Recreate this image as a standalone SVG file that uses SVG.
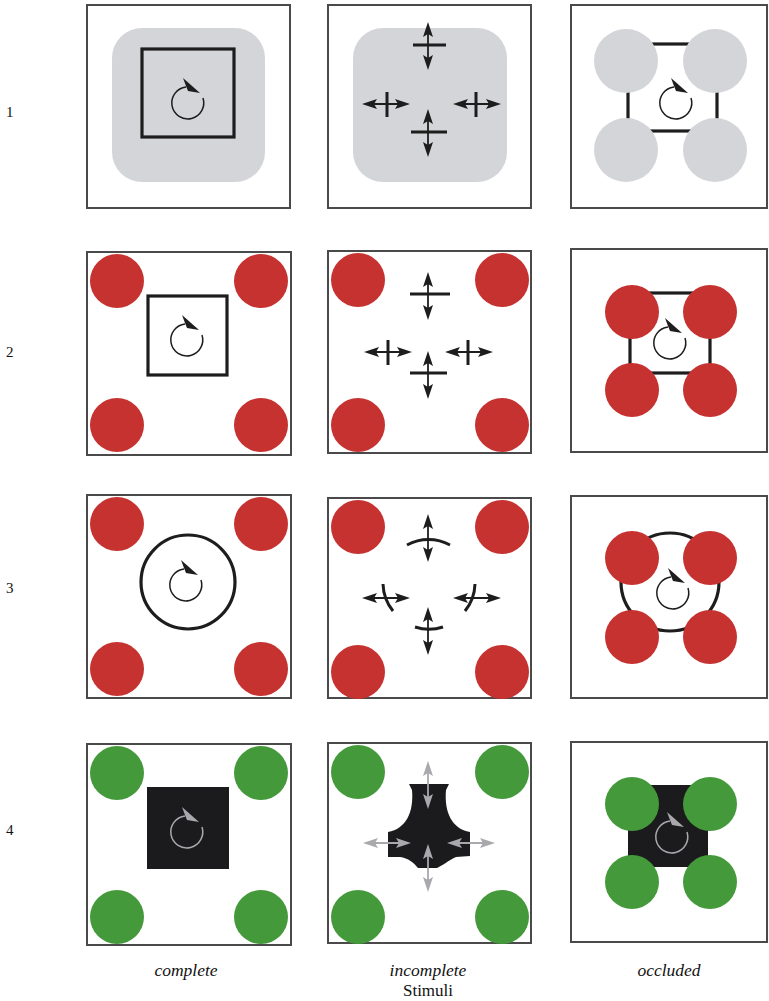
<svg xmlns="http://www.w3.org/2000/svg" xmlns:xlink="http://www.w3.org/1999/xlink" width="769" height="1001" viewBox="0 0 769 1001">
<style>
.box{fill:#fff;stroke:#4a4a4a;stroke-width:2}
.gray{fill:#d4d5d9}
.red{fill:#c53230}
.green{fill:#449a3b}
.blk{fill:#1b1b1d}
.edge{fill:none;stroke:#1d1d1d;stroke-width:3.2}
.bar{fill:none;stroke:#1d1d1d;stroke-width:3}
.lbl{font-family:'Liberation Serif','Times New Roman',serif;font-size:15px;fill:#111}
.cap{font-family:'Liberation Serif','Times New Roman',serif;font-size:17px;fill:#111;text-anchor:middle}
.it{font-style:italic;font-size:17.5px}
</style>
<defs>
<g id="rot">
<path d="M15,-5 A16,16 0 1 1 -2,-16" fill="none" stroke="currentColor" stroke-width="1.5"/>
<path d="M-5,-25 L12,-10 L0,-12 L-2,-17 Z" fill="currentColor"/>
</g>
<g id="dv">
<line x1="0" y1="-20" x2="0" y2="20" stroke="currentColor" stroke-width="1.8"/>
<path d="M0,-24 L5,-9 L0,-12 L-5,-9 Z" fill="currentColor"/>
<path d="M0,24 L5,9 L0,12 L-5,9 Z" fill="currentColor"/>
</g>
<g id="dh"><use xlink:href="#dv" transform="rotate(90)"/></g>
</defs>

<g id="row-labels">
<text class="lbl" x="6" y="117">1</text>
<text class="lbl" x="6" y="357">2</text>
<text class="lbl" x="6" y="593">3</text>
<text class="lbl" x="6" y="835">4</text>
</g>

<!-- Row 1 -->
<g id="r1-complete">
<rect class="box" x="87" y="5" width="203" height="203"/>
<rect class="gray" x="112" y="28" width="153" height="154" rx="30"/>
<rect class="edge" x="142" y="49" width="92" height="88" stroke-width="3.5"/>
<use xlink:href="#rot" x="188" y="103" color="#1d1d1d"/>
</g>
<g id="r1-incomplete">
<rect class="box" x="328" y="5" width="203" height="203"/>
<rect class="gray" x="353" y="28" width="154" height="154" rx="30"/>
<g color="#1d1d1d">
<use xlink:href="#dv" x="428" y="46"/><line class="bar" x1="413" y1="45" x2="446" y2="45"/>
<use xlink:href="#dv" x="428" y="133"/><line class="bar" x1="411" y1="132" x2="447" y2="132"/>
<use xlink:href="#dh" x="386" y="104"/><line class="bar" x1="387" y1="92" x2="387" y2="117"/>
<use xlink:href="#dh" x="477" y="104"/><line class="bar" x1="476" y1="92" x2="476" y2="117"/>
</g>
</g>
<g id="r1-occluded">
<rect class="box" x="571" y="5" width="196" height="203"/>
<rect class="edge" x="628" y="44" width="89" height="87"/>
<circle class="gray" cx="626" cy="61" r="32"/>
<circle class="gray" cx="715" cy="61" r="32"/>
<circle class="gray" cx="626" cy="150" r="32"/>
<circle class="gray" cx="715" cy="150" r="32"/>
<use xlink:href="#rot" x="676" y="103" color="#1d1d1d"/>
</g>

<!-- Row 2 -->
<g id="r2-complete">
<rect class="box" x="87" y="252" width="204" height="203"/>
<circle class="red" cx="117" cy="281" r="27"/>
<circle class="red" cx="261" cy="281" r="27"/>
<circle class="red" cx="117" cy="425" r="27"/>
<circle class="red" cx="261" cy="425" r="27"/>
<rect class="edge" x="148" y="296" width="79" height="79"/>
<use xlink:href="#rot" x="187" y="340" color="#1d1d1d"/>
</g>
<g id="r2-incomplete">
<rect class="box" x="328" y="251" width="203" height="202"/>
<circle class="red" cx="358" cy="280" r="27"/>
<circle class="red" cx="502" cy="280" r="27"/>
<circle class="red" cx="358" cy="425" r="27"/>
<circle class="red" cx="502" cy="425" r="27"/>
<g color="#1d1d1d">
<use xlink:href="#dv" x="428" y="296"/><line class="bar" x1="410" y1="294" x2="450" y2="294"/>
<use xlink:href="#dv" x="428" y="375"/><line class="bar" x1="410" y1="373" x2="447" y2="373"/>
<use xlink:href="#dh" x="388" y="352"/><line class="bar" x1="388" y1="340" x2="388" y2="365"/>
<use xlink:href="#dh" x="469" y="352"/><line class="bar" x1="468" y1="340" x2="468" y2="365"/>
</g>
</g>
<g id="r2-occluded">
<rect class="box" x="571" y="249" width="196" height="203"/>
<rect class="edge" x="630" y="293" width="80" height="80"/>
<circle class="red" cx="632" cy="312" r="27"/>
<circle class="red" cx="710" cy="312" r="27"/>
<circle class="red" cx="632" cy="390" r="27"/>
<circle class="red" cx="710" cy="390" r="27"/>
<use xlink:href="#rot" x="670" y="343" color="#1d1d1d"/>
</g>

<!-- Row 3 -->
<g id="r3-complete">
<rect class="box" x="87" y="495" width="204" height="203"/>
<circle class="red" cx="117" cy="524" r="27"/>
<circle class="red" cx="261" cy="524" r="27"/>
<circle class="red" cx="117" cy="669" r="27"/>
<circle class="red" cx="261" cy="669" r="27"/>
<circle class="edge" cx="188" cy="582" r="47"/>
<use xlink:href="#rot" x="186" y="585" color="#1d1d1d"/>
</g>
<g id="r3-incomplete">
<rect class="box" x="328" y="498" width="203" height="200"/>
<circle class="red" cx="358" cy="527" r="27"/>
<circle class="red" cx="502" cy="527" r="27"/>
<circle class="red" cx="358" cy="672" r="27"/>
<circle class="red" cx="502" cy="672" r="27"/>
<g color="#1d1d1d">
<use xlink:href="#dv" x="428" y="538"/><path class="bar" d="M407,545 A45,45 0 0 1 450,545"/>
<use xlink:href="#dv" x="428" y="631"/><path class="bar" d="M415,627 A45,45 0 0 0 443,627"/>
<use xlink:href="#dh" x="386" y="598"/><path class="bar" d="M383,584 A45,45 0 0 0 393,611"/>
<use xlink:href="#dh" x="477" y="598"/><path class="bar" d="M475,584 A45,45 0 0 1 465,611"/>
</g>
</g>
<g id="r3-occluded">
<rect class="box" x="571" y="496" width="196" height="202"/>
<circle class="edge" cx="670" cy="582" r="49"/>
<circle class="red" cx="632" cy="558" r="27"/>
<circle class="red" cx="710" cy="558" r="27"/>
<circle class="red" cx="632" cy="637" r="27"/>
<circle class="red" cx="710" cy="637" r="27"/>
<use xlink:href="#rot" x="673" y="593" color="#1d1d1d"/>
</g>

<!-- Row 4 -->
<g id="r4-complete">
<rect class="box" x="87" y="744" width="204" height="201"/>
<circle class="green" cx="117" cy="773" r="27"/>
<circle class="green" cx="261" cy="773" r="27"/>
<circle class="green" cx="117" cy="917" r="27"/>
<circle class="green" cx="261" cy="917" r="27"/>
<rect class="blk" x="147" y="787" width="82" height="82"/>
<use xlink:href="#rot" x="187" y="832" color="#a9a9ad"/>
</g>
<g id="r4-incomplete">
<rect class="box" x="328" y="743" width="203" height="200"/>
<circle class="green" cx="358" cy="772" r="27"/>
<circle class="green" cx="502" cy="772" r="27"/>
<circle class="green" cx="358" cy="917" r="27"/>
<circle class="green" cx="502" cy="917" r="27"/>
<path class="blk" d="M409,784 L449,784 L446,790 C444,812 452,829 470,832 L470,856 L456,857 C449,860 442,866 437,868 L418,868 C414,863 408,858 400,857 L388,857 L388,832 C406,829 414,812 412,790 Z"/>
<g color="#a9a9ad">
<use xlink:href="#dv" x="428" y="785"/>
<use xlink:href="#dv" x="428" y="868"/>
<use xlink:href="#dh" x="387" y="843"/>
<use xlink:href="#dh" x="471" y="843"/>
</g>
</g>
<g id="r4-occluded">
<rect class="box" x="571" y="742" width="196" height="200"/>
<rect class="blk" x="628" y="785" width="80" height="82"/>
<circle class="green" cx="632" cy="804" r="27"/>
<circle class="green" cx="710" cy="804" r="27"/>
<circle class="green" cx="632" cy="882" r="27"/>
<circle class="green" cx="710" cy="882" r="27"/>
<use xlink:href="#rot" x="672" y="837" color="#a9a9ad"/>
</g>

<g id="captions">
<text class="cap it" x="186" y="976">complete</text>
<text class="cap it" x="428" y="976">incomplete</text>
<text class="cap it" x="669" y="976">occluded</text>
<text class="cap" x="428" y="996">Stimuli</text>
</g>
</svg>
